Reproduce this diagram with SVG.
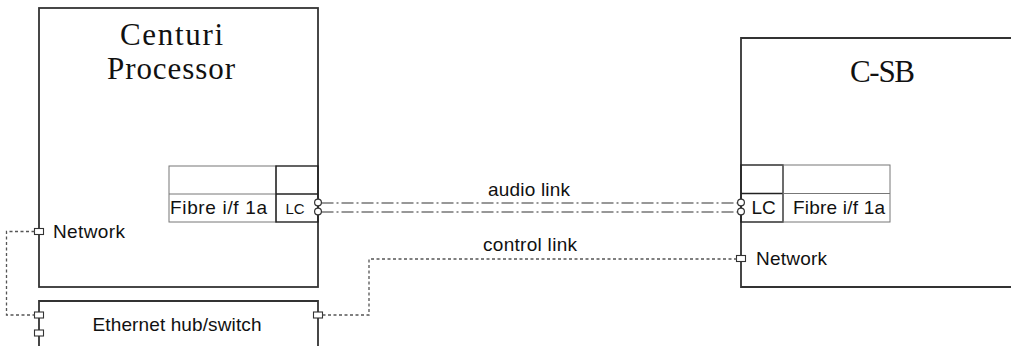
<svg xmlns="http://www.w3.org/2000/svg" width="1011" height="346" viewBox="0 0 1011 346">
<style>
.box{fill:none;stroke:#333;stroke-width:1.8}
.cell{fill:none;stroke:#777;stroke-width:1}
.lc{fill:none;stroke:#222;stroke-width:1.4}
.title{font-family:"Liberation Serif","Times New Roman",serif;font-size:31px;fill:#111}
.lbl{font-family:"Liberation Sans",Arial,sans-serif;font-size:19px;fill:#111}
.small{font-family:"Liberation Sans",Arial,sans-serif;font-size:15px;fill:#111}
.port{fill:#fff;stroke:#333;stroke-width:1.1}
.plug{fill:#fff;stroke:#333;stroke-width:1.2}
.dot{fill:none;stroke:#555;stroke-width:1.3;stroke-dasharray:3 2.5}
.dashdot{fill:none;stroke:#333;stroke-width:1.2;stroke-dasharray:12 3 2 3}
</style>
<g id="centuri">
<rect class="box" x="39" y="8" width="279" height="279"/>
<text class="title" x="171.5" y="45" text-anchor="middle" textLength="103">Centuri</text>
<text class="title" x="171" y="79" text-anchor="middle" textLength="128">Processor</text>
<rect class="cell" x="169" y="166" width="107" height="56"/>
<line class="cell" x1="169" y1="194" x2="276" y2="194"/>
<rect class="lc" x="276" y="166" width="42" height="56"/>
<line class="lc" x1="276" y1="194" x2="318" y2="194"/>
<text class="lbl" x="170" y="214" textLength="97">Fibre i/f 1a</text>
<text class="small" x="285.5" y="213.5">LC</text>
<text class="lbl" x="53" y="238" textLength="72">Network</text>
<rect class="port" x="34.5" y="228.5" width="9" height="6"/>
<circle class="plug" cx="318" cy="202.5" r="3.4"/>
<circle class="plug" cx="318" cy="211.5" r="3.4"/>
</g>
<g id="csb">
<path class="box" d="M1012 38 H741 V287 H1012"/>
<text class="title" x="882.5" y="82" text-anchor="middle" textLength="65">C-SB</text>
<rect class="lc" x="741" y="165" width="42" height="57"/>
<line class="lc" x1="741" y1="193.5" x2="783" y2="193.5"/>
<rect class="cell" x="783" y="165" width="107" height="57"/>
<line class="cell" x1="783" y1="193.5" x2="890" y2="193.5"/>
<text class="lbl" x="751.5" y="214" font-size="16">LC</text>
<text class="lbl" x="793" y="214" textLength="92">Fibre i/f 1a</text>
<text class="lbl" x="756" y="265" textLength="71">Network</text>
<rect class="port" x="736.5" y="255.5" width="9" height="6"/>
<circle class="plug" cx="741" cy="202.5" r="3.4"/>
<circle class="plug" cx="741" cy="211.5" r="3.4"/>
</g>
<g id="ethernet">
<path class="box" d="M39 347 V301 H318 V347"/>
<text class="lbl" x="177" y="331" text-anchor="middle" textLength="169">Ethernet hub/switch</text>
<rect class="port" x="34.5" y="312" width="9" height="6"/>
<rect class="port" x="34.5" y="330" width="9" height="6"/>
<rect class="port" x="313.5" y="312" width="9" height="6"/>
</g>
<g id="connectors">
<path class="dashdot" d="M321.5 203 H737.5"/>
<path class="dashdot" d="M321.5 212 H737.5"/>
<path class="dot" d="M34.5 231.5 H6.5 V315 H34.5"/>
<path class="dot" d="M322.5 315 H369 V259 H736.5"/>
<text class="lbl" x="529" y="196" text-anchor="middle" textLength="82">audio link</text>
<text class="lbl" x="530" y="251" text-anchor="middle" textLength="94">control link</text>
</g>
</svg>
